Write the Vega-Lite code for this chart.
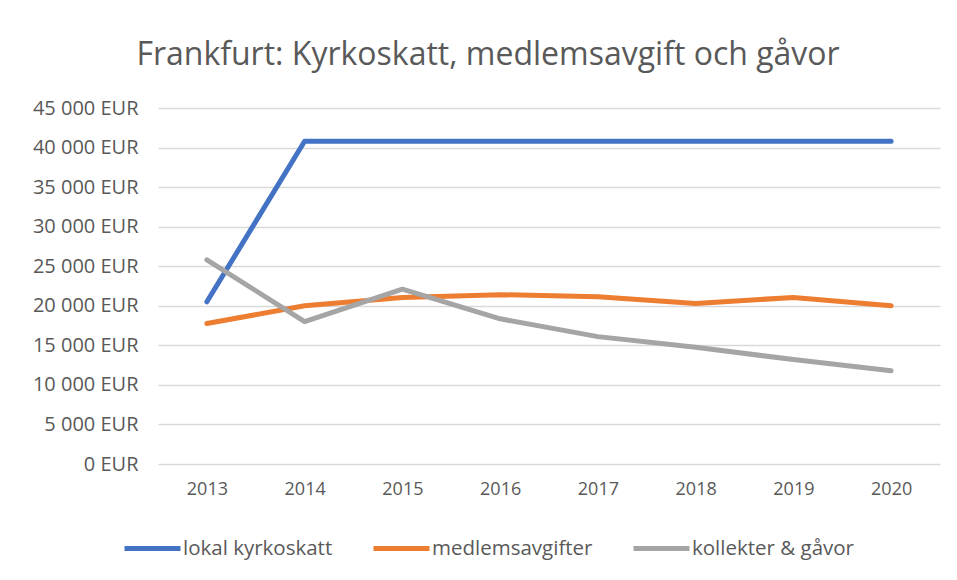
{
  "$schema": "https://vega.github.io/schema/vega-lite/v6.json",
  "width": 782,
  "height": 356,
  "autosize": {"type": "none"},
  "padding": {"left": 158, "top": 108, "right": 17, "bottom": 116},
  "background": "white",
  "title": {
    "text": "Frankfurt: Kyrkoskatt, medlemsavgift och gåvor",
    "font": "Open Sans",
    "fontSize": 32,
    "fontWeight": "normal",
    "color": "#595959",
    "anchor": "middle",
    "dx": -61,
    "baseline": "alphabetic",
    "offset": 1
  },
  "config": {
    "view": {"stroke": null},
    "font": "Open Sans"
  },
  "data": {
    "values": [
      {"year": "2013", "series": "lokal kyrkoskatt", "value": 20500},
      {"year": "2014", "series": "lokal kyrkoskatt", "value": 40800},
      {"year": "2015", "series": "lokal kyrkoskatt", "value": 40800},
      {"year": "2016", "series": "lokal kyrkoskatt", "value": 40800},
      {"year": "2017", "series": "lokal kyrkoskatt", "value": 40800},
      {"year": "2018", "series": "lokal kyrkoskatt", "value": 40800},
      {"year": "2019", "series": "lokal kyrkoskatt", "value": 40800},
      {"year": "2020", "series": "lokal kyrkoskatt", "value": 40800},
      {"year": "2013", "series": "medlemsavgifter", "value": 17750},
      {"year": "2014", "series": "medlemsavgifter", "value": 20000},
      {"year": "2015", "series": "medlemsavgifter", "value": 21050},
      {"year": "2016", "series": "medlemsavgifter", "value": 21400},
      {"year": "2017", "series": "medlemsavgifter", "value": 21150},
      {"year": "2018", "series": "medlemsavgifter", "value": 20300},
      {"year": "2019", "series": "medlemsavgifter", "value": 21050},
      {"year": "2020", "series": "medlemsavgifter", "value": 20000},
      {"year": "2013", "series": "kollekter & gåvor", "value": 25800},
      {"year": "2014", "series": "kollekter & gåvor", "value": 18000},
      {"year": "2015", "series": "kollekter & gåvor", "value": 22100},
      {"year": "2016", "series": "kollekter & gåvor", "value": 18350},
      {"year": "2017", "series": "kollekter & gåvor", "value": 16100},
      {"year": "2018", "series": "kollekter & gåvor", "value": 14750},
      {"year": "2019", "series": "kollekter & gåvor", "value": 13200},
      {"year": "2020", "series": "kollekter & gåvor", "value": 11800}
    ]
  },
  "mark": {"type": "line", "strokeWidth": 5, "strokeCap": "round", "strokeJoin": "round"},
  "encoding": {
    "x": {
      "field": "year",
      "type": "ordinal",
      "scale": {"type": "point", "padding": 0.5},
      "axis": {
        "title": null,
        "labelAngle": 0,
        "labelFont": "Open Sans",
        "labelFontSize": 18,
        "labelColor": "#595959",
        "labelPadding": 16,
        "ticks": false,
        "domain": false,
        "grid": false
      }
    },
    "y": {
      "field": "value",
      "type": "quantitative",
      "scale": {"domain": [0, 45000], "nice": false},
      "axis": {
        "title": null,
        "values": [0, 5000, 10000, 15000, 20000, 25000, 30000, 35000, 40000, 45000],
        "labelExpr": "replace(format(datum.value, ','), ',', ' ') + ' EUR'",
        "labelFont": "Open Sans",
        "labelFontSize": 20,
        "labelColor": "#595959",
        "labelPadding": 20,
        "ticks": false,
        "domain": false,
        "grid": true,
        "gridColor": "#D9D9D9",
        "gridWidth": 1.5
      }
    },
    "color": {
      "field": "series",
      "type": "nominal",
      "sort": ["lokal kyrkoskatt", "medlemsavgifter", "kollekter & gåvor"],
      "scale": {
        "domain": ["lokal kyrkoskatt", "medlemsavgifter", "kollekter & gåvor"],
        "range": ["#4472C4", "#ED7D31", "#A5A5A5"]
      },
      "legend": {
        "title": null,
        "orient": "none",
        "legendX": -36,
        "legendY": 410,
        "direction": "horizontal",
        "symbolType": "stroke",
        "symbolSize": 3136,
        "symbolStrokeWidth": 5,
        "labelFont": "Open Sans",
        "labelFontSize": 20.5,
        "labelColor": "#595959",
        "labelOffset": 0,
        "labelLimit": 400,
        "columnPadding": 30
      }
    }
  }
}
